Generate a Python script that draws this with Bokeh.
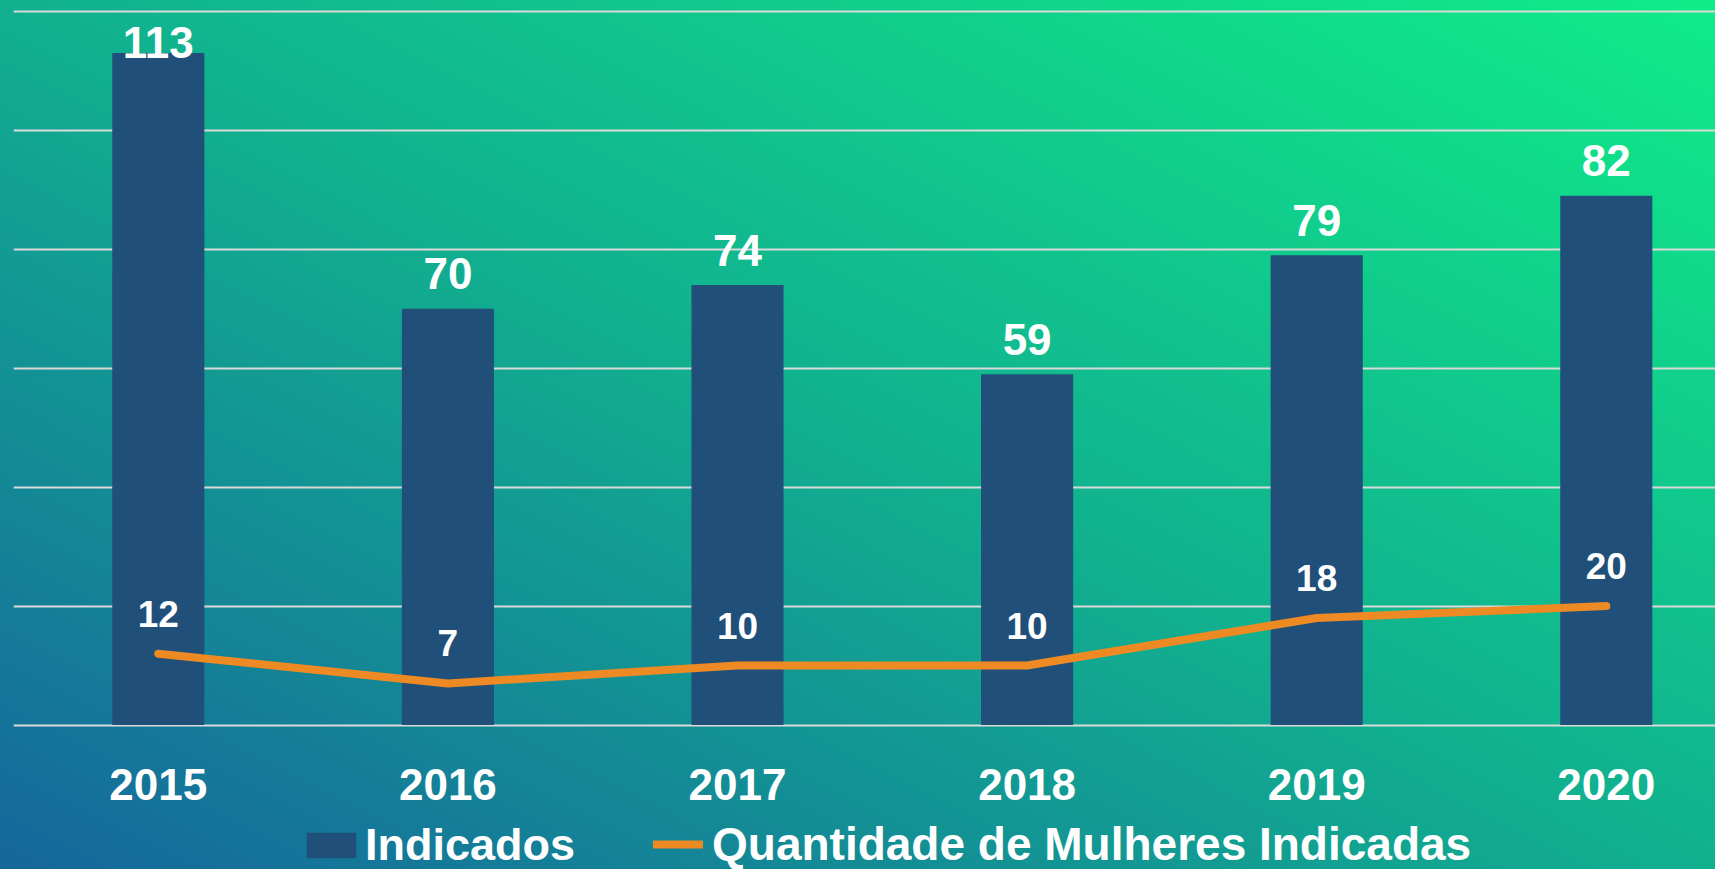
from bokeh.plotting import figure
from bokeh.models import Range1d, Grid, FixedTicker, Legend, LegendItem
from bokeh.core.properties import value
from bokeh.embed import file_html
from bokeh.resources import INLINE

# ---- data ----
years = ["2015", "2016", "2017", "2018", "2019", "2020"]
indicados = [113, 70, 74, 59, 79, 89]            # bar heights as drawn
indicados_labels = ["113", "70", "74", "59", "79", "82"]  # printed labels
mulheres = [12, 7, 10, 10, 18, 20]
mulheres_labels = ["12", "7", "10", "10", "18", "20"]
grid_ticks = [0, 20, 40, 60, 80, 100, 120]

# ---- layout ----
W, H = 1715, 869
LEFT = 13
CAT_PX = 289.6
PPU = 5.946
TOP_PX = 11          # pixel row of the 120 gridline
Y_MAX = 120 + TOP_PX / PPU
Y_MIN = Y_MAX - H / PPU
FONT = value("Liberation Sans")

xs = list(range(len(years)))

p = figure(width=W, height=H, output_backend="svg", toolbar_location=None, tools="",
           x_range=Range1d(-0.5, -0.5 + (W - LEFT) / CAT_PX),
           y_range=Range1d(Y_MIN, Y_MAX),
           x_axis_type=None, y_axis_type=None,
           min_border_left=LEFT, min_border_right=0, min_border_top=0, min_border_bottom=0)
p.background_fill_alpha = 0
p.border_fill_alpha = 0
p.outline_line_color = None
p.styles = {"background": "linear-gradient(to top right, #16669C 0%, #11B08F 50%, #10EC88 100%)"}

p.add_layout(Grid(dimension=1, ticker=FixedTicker(ticks=grid_ticks),
                  grid_line_color="#DADADA", grid_line_width=2))

r_bar = p.vbar(x=xs, top=indicados, bottom=0, width=0.318,
               fill_color="#204F79", line_color=None)

r_line = p.line(xs, mulheres, line_color="#EE8A24", line_width=8,
                line_cap="round", line_join="round")

bar_label_y = [min(v + 35 / PPU, 114.87) for v in indicados]
p.text(x=xs, y=bar_label_y, text=indicados_labels, text_font=FONT,
       text_font_style="bold", text_font_size="44px", text_color="white",
       text_align="center", text_baseline="middle")

line_label_y = [v + 40 / PPU for v in mulheres]
p.text(x=xs, y=line_label_y, text=mulheres_labels, text_font=FONT,
       text_font_style="bold", text_font_size="37px", text_color="white",
       text_align="center", text_baseline="middle")

p.text(x=xs, y=[-(59.5 / PPU)] * len(xs), text=years, text_font=FONT,
       text_font_style="bold", text_font_size="44px", text_color="white",
       text_align="center", text_baseline="middle")

LY = -2
common = dict(orientation="horizontal", padding=0, margin=0, spacing=0,
              border_line_alpha=0, background_fill_alpha=0,
              label_text_font="Liberation Sans", label_text_font_style="bold",
              label_text_color="white")
leg1 = Legend(items=[LegendItem(label="Indicados", renderers=[r_bar])],
              location=(287, LY), glyph_width=62, glyph_height=32,
              label_standoff=3, label_text_font_size="45px", **common)
leg2 = Legend(items=[LegendItem(label="Quantidade de Mulheres Indicadas", renderers=[r_line])],
              location=(640, LY), glyph_width=50, glyph_height=32,
              label_standoff=9, label_text_font_size="46px", **common)
p.add_layout(leg1)
p.add_layout(leg2)

open("out.html", "w").write(file_html(p, INLINE))
